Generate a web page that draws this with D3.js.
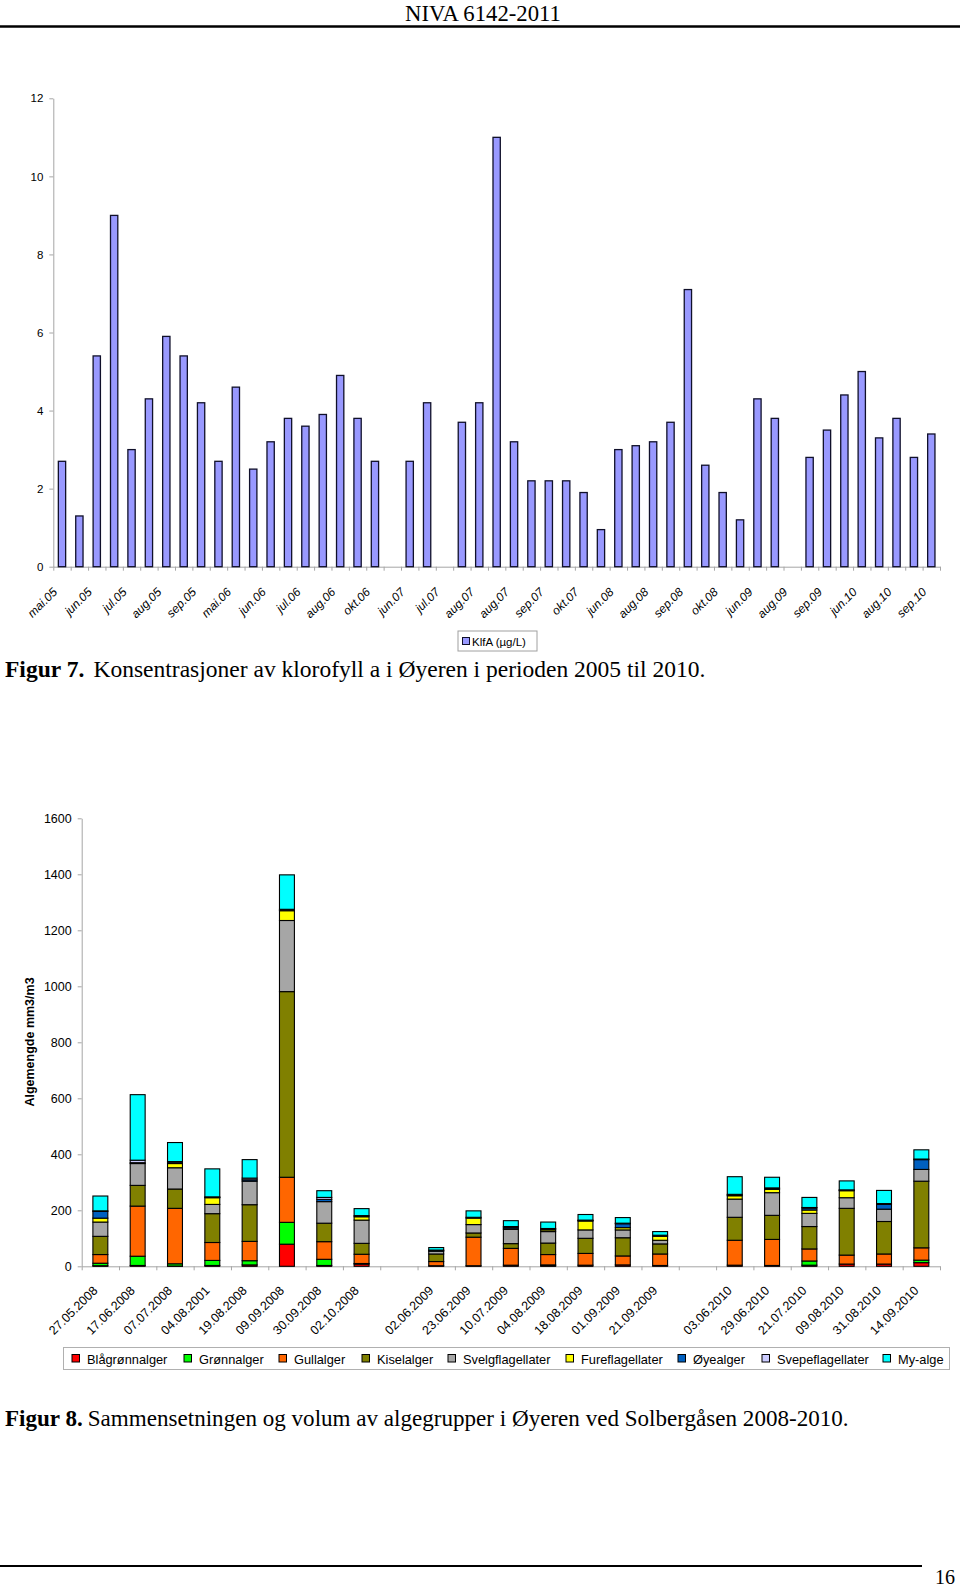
<!DOCTYPE html>
<html><head><meta charset="utf-8">
<script src="https://cdn.jsdelivr.net/npm/d3@7/dist/d3.min.js"></script>
<style>
body{margin:0;background:#fff;}
svg{display:block;}
text{font-family:Arial,"Liberation Sans",sans-serif;fill:#000;}
.serif{font-family:"Liberation Serif","Times New Roman",serif;}
</style></head><body>
<svg id="page" width="960" height="1589"></svg>
<script>
// ---------- Figur 7 data ----------
const klfCategories = ["mai.05","jun.05","jun.05","jul.05","jul.05","aug.05","aug.05","sep.05","sep.05","okt.05",
  "mai.06","jun.06","jun.06","jul.06","jul.06","aug.06","aug.06","sep.06","okt.06","mai.07",
  "jun.07","jun.07","jul.07","jul.07","aug.07","aug.07","aug.07","sep.07","sep.07","okt.07",
  "okt.07","mai.08","jun.08","jul.08","aug.08","aug.08","sep.08","sep.08","okt.08","mai.09",
  "jun.09","jul.09","aug.09","aug.09","sep.09","mai.10","jun.10","jul.10","aug.10","aug.10","sep.10"];
const klfValues = [2.7,1.3,5.4,9.0,3.0,4.3,5.9,5.4,4.2,2.7,
  4.6,2.5,3.2,3.8,3.6,3.9,4.9,3.8,2.7,null,
  2.7,4.2,null,3.7,4.2,11.0,3.2,2.2,2.2,2.2,
  1.9,0.95,3.0,3.1,3.2,3.7,7.1,2.6,1.9,1.2,
  4.3,3.8,null,2.8,3.5,4.4,5.0,3.3,3.8,2.8,3.4];
const klfTicks = [0,2,4,6,8,10,12];
const klfSeriesName = "KlfA (µg/L)";

// ---------- Figur 8 data ----------
const algeDates = ["27.05.2008","17.06.2008","07.07.2008","04.08.2001","19.08.2008","09.09.2008","30.09.2008","02.10.2008","",
  "02.06.2009","23.06.2009","10.07.2009","04.08.2009","18.08.2009","01.09.2009","21.09.2009","",
  "03.06.2010","29.06.2010","21.07.2010","09.08.2010","31.08.2010","14.09.2010"];
const algeNames = ["Blågrønnalger","Grønnalger","Gullalger","Kiselalger","Svelgflagellater","Fureflagellater","Øyealger","Svepeflagellater","My-alge"];
const algeColors = ["#FF0000","#00FF00","#FF6600","#808000","#A6A6A6","#FFFF00","#0060C0","#CCCCFF","#00FFFF"];
const blagronnalger    = [2,3,1,3,5,79,3,8,0, 2,2,4,2,4,5,3,0, 4,3,4,8,8,13];
const gronnalger       = [9,33,8,18,15,78,22,2,0, 0,0,0,3,0,0,0,0, 0,0,15,0,0,9];
const gullalger        = [31,179,198,64,69,161,63,33,0, 15,102,60,37,42,32,41,0, 89,93,43,32,36,44];
const kiselalger       = [65,74,69,103,131,663,66,39,0, 27,15,17,41,54,65,36,0, 82,86,80,167,116,238];
const svelgflagellater = [51,78,76,33,84,254,77,83,0, 10,30,51,41,30,28,13,0, 65,81,47,38,44,42];
const fureflagellater  = [14,0,15,24,0,35,0,12,0, 0,23,2,6,32,8,14,0, 12,12,12,25,0,0];
const oyealger         = [24,3,5,1,5,2,8,0,0, 2,0,5,3,1,14,0,0, 3,2,7,2,17,35];
const svepeflagellater = [2,9,2,2,6,3,7,4,0, 2,3,3,2,2,2,4,0, 2,3,2,1,3,2];
const myalge           = [53,234,68,100,66,123,24,25,0, 9,23,21,23,20,20,13,0, 63,38,36,32,47,33];
const algeTicks = [0,200,400,600,800,1000,1200,1400,1600];
const algeYTitle = "Algemengde mm3/m3";

const svg = d3.select("#page");
const axisGray = "#A6A6A6";
const fmt = d3.format("d");

// ---------- Header / footer ----------
function fitText(sel, w){
  const bb = sel.node().getBBox();
  return w / bb.width;
}
const hdr = svg.append("g");
const hdrT = hdr.append("text").attr("class","serif").attr("font-size",23).attr("text-anchor","middle").text("NIVA 6142-2011");
hdr.attr("transform",`translate(483,21) scale(${fitText(hdrT,156)},1)`);
svg.append("line").attr("x1",0).attr("x2",960).attr("y1",26.5).attr("y2",26.5).attr("stroke","#000").attr("stroke-width",2.5);

svg.append("line").attr("x1",0).attr("x2",922).attr("y1",1566).attr("y2",1566).attr("stroke","#000").attr("stroke-width",2);
const pg = svg.append("g");
const pgT = pg.append("text").attr("class","serif").attr("font-size",20).text("16");
pg.attr("transform",`translate(935,1584) scale(${fitText(pgT,20)},1)`);

// ---------- Figur 7 chart ----------
{
  const x0 = 53.3, x1 = 940, yTop = 98.3, yBot = 566.7;
  const n = klfCategories.length;
  const x = d3.scaleBand().domain(d3.range(n)).range([x0,x1]).paddingInner(0.58).paddingOuter(0.29);
  const xl = d3.scaleLinear().domain([0,n]).range([x0,x1]);
  const y = d3.scaleLinear().domain([0,12]).range([yBot,yTop]);
  const g = svg.append("g");

  const ya = g.append("g").attr("transform",`translate(${x0},0)`)
    .call(d3.axisLeft(y).tickValues(klfTicks).tickFormat(fmt).tickSize(4).tickSizeOuter(0).tickPadding(6));
  ya.select(".domain").attr("stroke",axisGray);
  ya.selectAll(".tick line").attr("stroke",axisGray);
  ya.selectAll(".tick text").attr("font-size",11.5).attr("font-family","Arial, Liberation Sans, sans-serif").attr("fill","#000");

  const xt = g.append("g").attr("transform",`translate(0,${yBot})`)
    .call(d3.axisBottom(xl).tickValues(d3.range(n+1)).tickSize(4).tickSizeOuter(0).tickFormat(""));
  xt.select(".domain").attr("stroke",axisGray);
  xt.selectAll(".tick line").attr("stroke",axisGray);

  const xlab = g.append("g").attr("transform",`translate(0,${yBot})`)
    .call(d3.axisBottom(x).tickValues(d3.range(0,n,2)).tickSize(0).tickFormat(i=>klfCategories[i]));
  xlab.select(".domain").remove();
  xlab.selectAll(".tick text").attr("font-size",12).attr("font-style","italic").attr("font-family","Arial, Liberation Sans, sans-serif")
    .attr("fill","#000").attr("text-anchor","end").attr("x",0).attr("y",0).attr("dy",0)
    .attr("transform","translate(-4,26) rotate(-45)");

  g.append("g").selectAll("rect").data(klfValues.map((v,i)=>({v,i})).filter(d=>d.v!=null)).join("rect")
    .attr("x",d=>x(d.i)).attr("width",x.bandwidth())
    .attr("y",d=>y(d.v)).attr("height",d=>y(0)-y(d.v))
    .attr("fill","#9999FF").attr("stroke","#10102a").attr("stroke-width",1.3);

  const lg = g.append("g");
  lg.append("rect").attr("x",458).attr("y",631).attr("width",79).attr("height",20).attr("fill","#fff").attr("stroke","#A0A0A0").attr("stroke-width",1);
  lg.append("rect").attr("x",462.5).attr("y",637.5).attr("width",7).attr("height",7).attr("fill","#9999FF").attr("stroke","#10102a").attr("stroke-width",1);
  lg.append("text").attr("x",472).attr("y",645.5).attr("font-size",11.5).text(klfSeriesName);

  const cap = svg.append("g");
  const ct = cap.append("text").attr("class","serif").attr("font-size",23);
  ct.append("tspan").attr("font-weight","bold").text("Figur 7.");
  ct.append("tspan").attr("dx",9).text("Konsentrasjoner av klorofyll a i Øyeren i perioden 2005 til 2010.");
  cap.attr("transform",`translate(5,677) scale(${fitText(ct,701)},1)`);
}

// ---------- Figur 8 chart ----------
{
  const x0 = 81.7, x1 = 940, yTop = 818.3, yBot = 1266.3;
  const n = algeDates.length;
  const x = d3.scaleBand().domain(d3.range(n)).range([x0,x1]).paddingInner(0.6).paddingOuter(0.3);
  const xl = d3.scaleLinear().domain([0,n]).range([x0,x1]);
  const y = d3.scaleLinear().domain([0,1600]).range([yBot,yTop]);
  const g = svg.append("g");

  const ya = g.append("g").attr("transform",`translate(${x0},0)`)
    .call(d3.axisLeft(y).tickValues(algeTicks).tickFormat(fmt).tickSize(4).tickSizeOuter(0).tickPadding(6));
  ya.select(".domain").attr("stroke",axisGray);
  ya.selectAll(".tick line").attr("stroke",axisGray);
  ya.selectAll(".tick text").attr("font-size",12.5).attr("font-family","Arial, Liberation Sans, sans-serif").attr("fill","#000");

  g.append("text").attr("transform",`translate(34,1042) rotate(-90)`).attr("text-anchor","middle")
    .attr("font-size",12.5).attr("font-weight","bold").text(algeYTitle);

  const xt = g.append("g").attr("transform",`translate(0,${yBot})`)
    .call(d3.axisBottom(xl).tickValues(d3.range(n+1)).tickSize(4).tickSizeOuter(0).tickFormat(""));
  xt.select(".domain").attr("stroke",axisGray);
  xt.selectAll(".tick line").attr("stroke",axisGray);

  const xlab = g.append("g").attr("transform",`translate(0,${yBot})`)
    .call(d3.axisBottom(x).tickSize(0).tickFormat(i=>algeDates[i]));
  xlab.select(".domain").remove();
  xlab.selectAll(".tick text").attr("font-size",12.5).attr("font-family","Arial, Liberation Sans, sans-serif")
    .attr("fill","#000").attr("text-anchor","end").attr("x",0).attr("y",0).attr("dy",0)
    .attr("transform","translate(-2,25) rotate(-45)");

  const seriesData = [blagronnalger,gronnalger,gullalger,kiselalger,svelgflagellater,fureflagellater,oyealger,svepeflagellater,myalge];
  const rows = d3.range(n).map(i=>{const r={i}; algeNames.forEach((nm,k)=>r[nm]=seriesData[k][i]); return r;});
  const stacked = d3.stack().keys(algeNames)(rows);
  g.append("g").selectAll("g").data(stacked).join("g")
    .attr("fill",(d,k)=>algeColors[k])
    .selectAll("rect").data(d=>d.filter(s=>s[1]-s[0]>0)).join("rect")
    .attr("x",d=>x(d.data.i)).attr("width",x.bandwidth())
    .attr("y",d=>y(d[1])).attr("height",d=>y(d[0])-y(d[1]))
    .attr("stroke","#000").attr("stroke-width",1.1);

  const lg = g.append("g");
  lg.append("rect").attr("x",63.5).attr("y",1347.5).attr("width",886).attr("height",22).attr("fill","#fff").attr("stroke","#B0B0B0").attr("stroke-width",1);
  const markerX = [72,184,279,362,448,566,678,762,883];
  algeNames.forEach((nm,k)=>{
    lg.append("rect").attr("x",markerX[k]).attr("y",1354.5).attr("width",7.5).attr("height",7.5).attr("fill",algeColors[k]).attr("stroke","#000").attr("stroke-width",1);
    lg.append("text").attr("x",markerX[k]+15).attr("y",1363.5).attr("font-size",12.8).text(nm);
  });

  const cap = svg.append("g");
  const ct = cap.append("text").attr("class","serif").attr("font-size",23);
  ct.append("tspan").attr("font-weight","bold").text("Figur 8.");
  ct.append("tspan").attr("dx",5).text("Sammensetningen og volum av algegrupper i Øyeren ved Solbergåsen 2008-2010.");
  cap.attr("transform",`translate(5,1426) scale(${fitText(ct,844)},1)`);
}
</script>
</body></html>
